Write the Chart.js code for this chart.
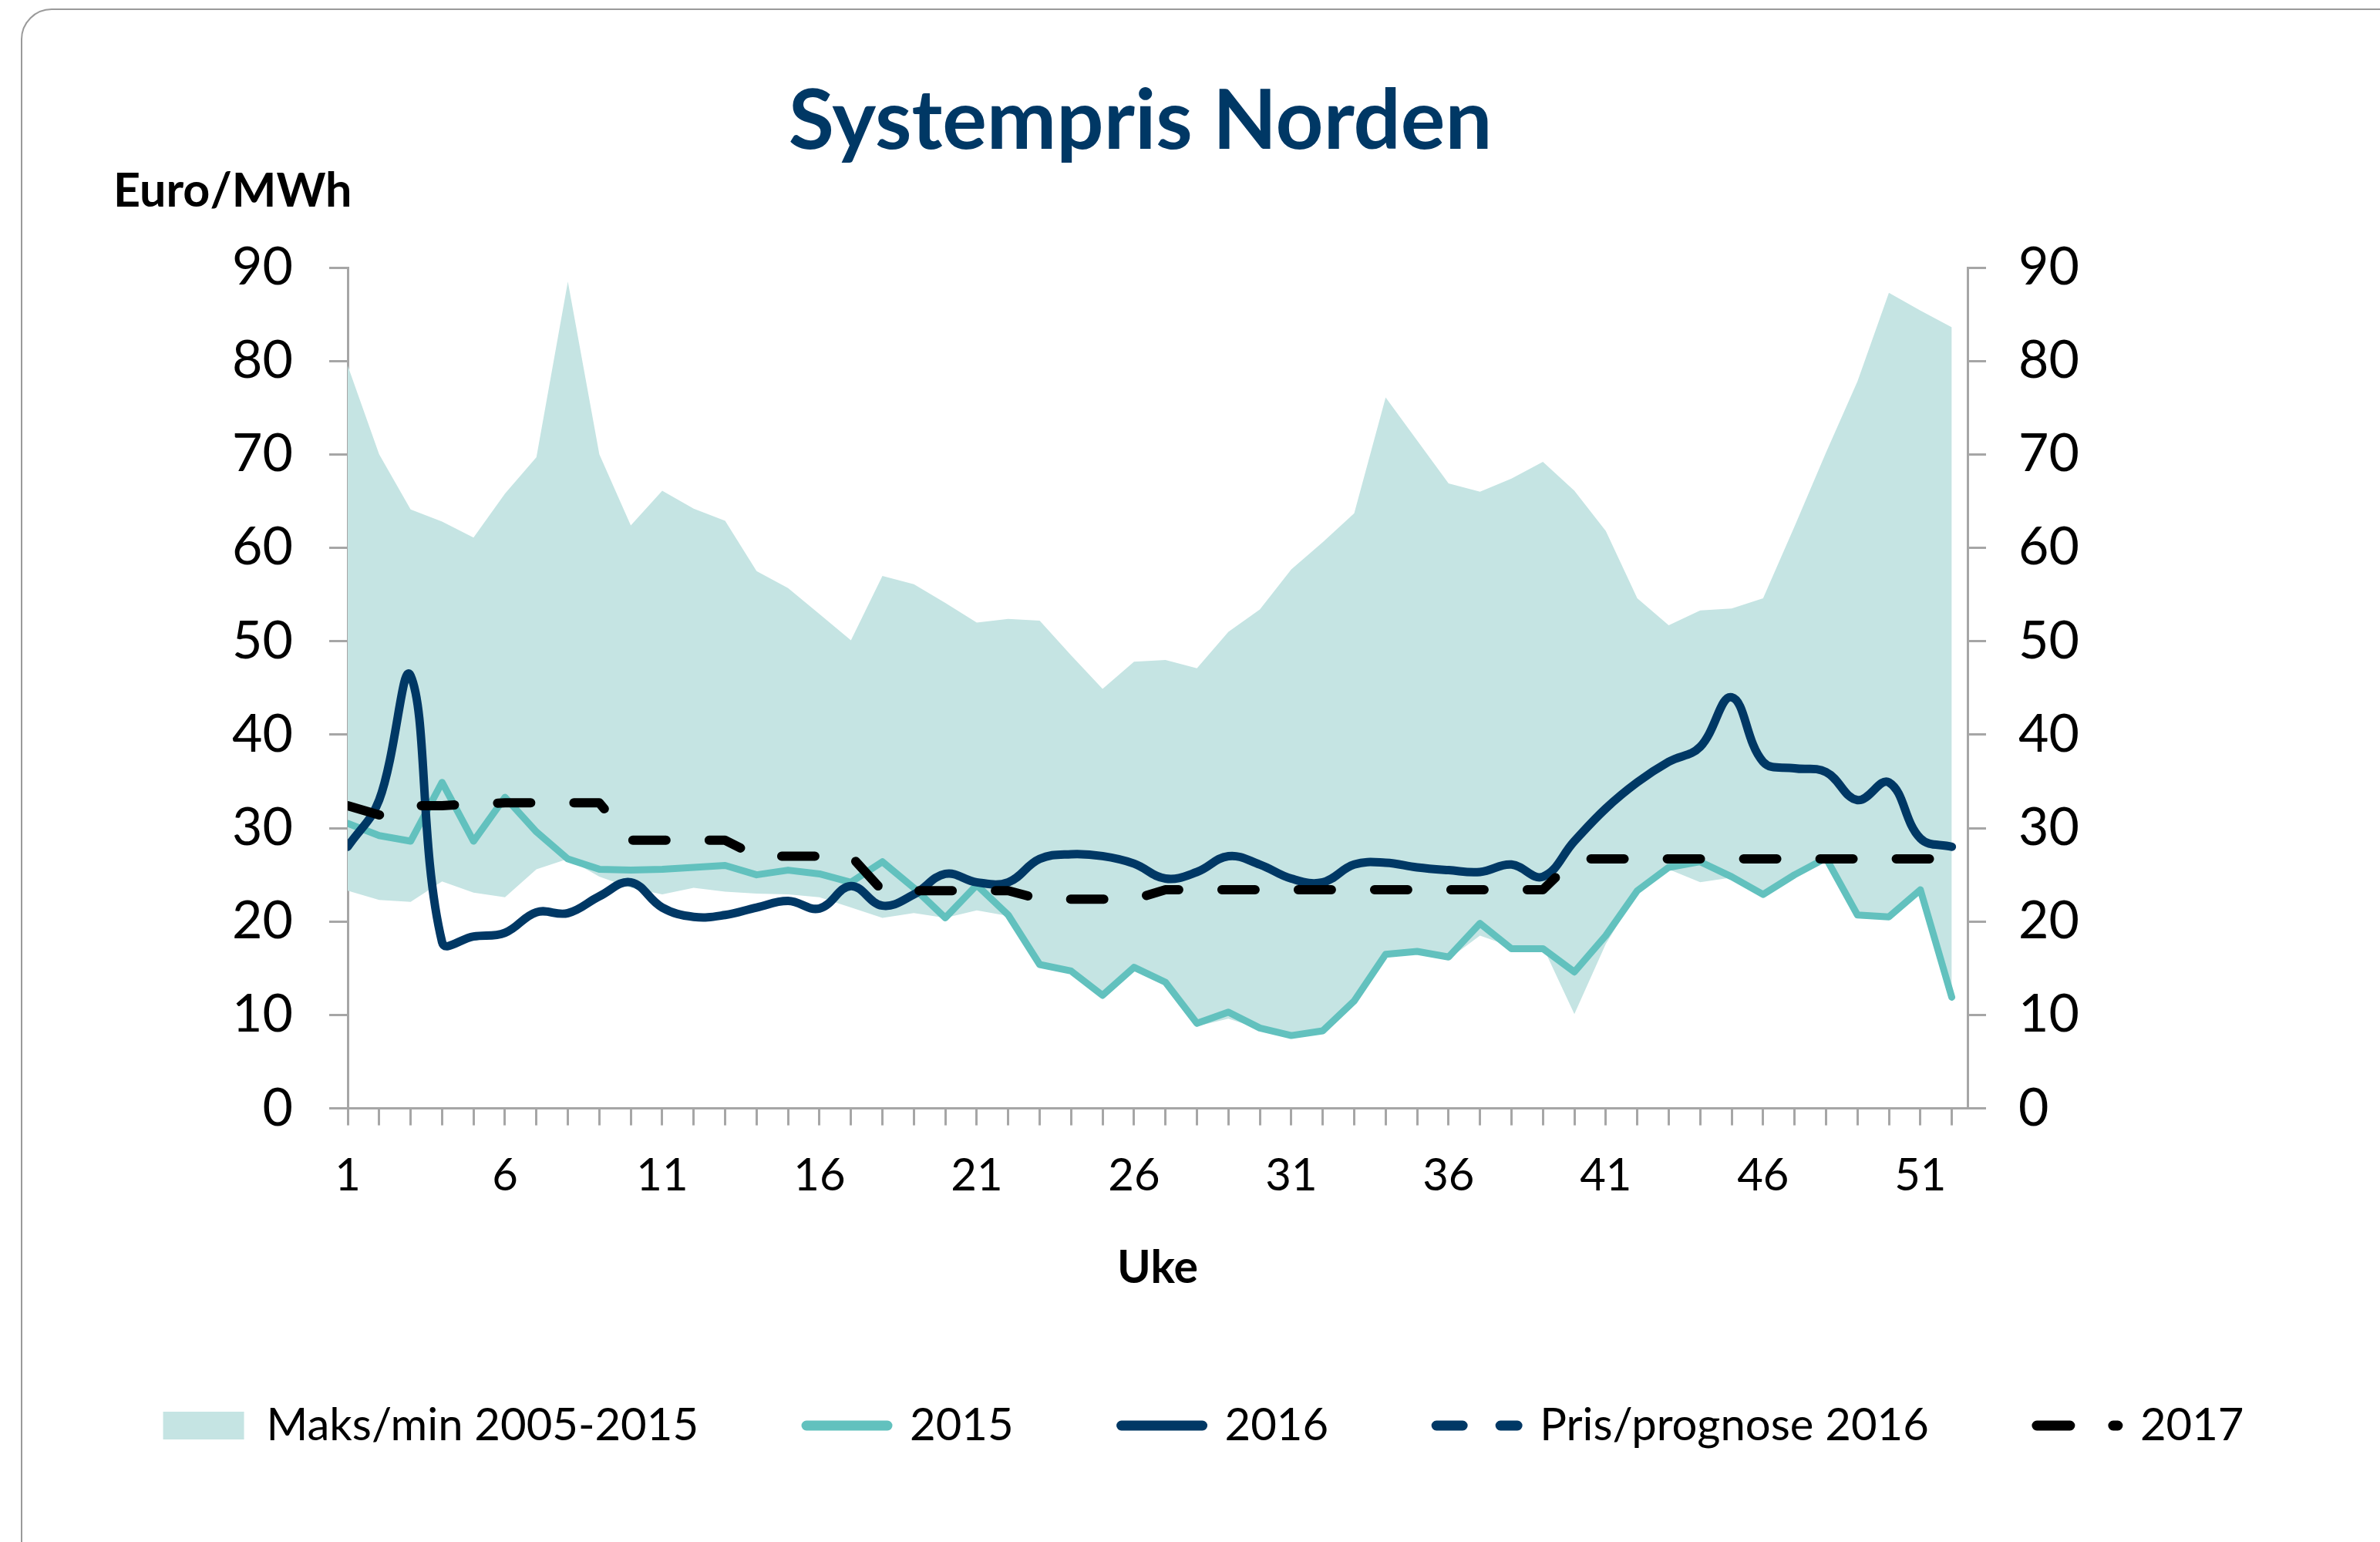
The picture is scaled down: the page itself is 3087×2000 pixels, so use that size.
<!DOCTYPE html>
<html lang="no">
<head>
<meta charset="utf-8">
<title>Systempris Norden</title>
<script src="https://cdn.jsdelivr.net/npm/chart.js@4.4.1/dist/chart.umd.min.js"></script>
<style>
  html, body { margin: 0; padding: 0; background: #fff; overflow: hidden; }
  .card { position: absolute; left: 27px; top: 11px; width: 3100px; height: 2060px; border: 2px solid #9a9a9a; border-radius: 40px; }
  #chart { position: absolute; left: 0; top: 0; }
</style>
</head>
<body>
<div class="card"></div>
<canvas id="chart" width="3087" height="2000"></canvas>
<script>
// Systempris Norden: weekly system price vs. the 2005-2015 max/min band
const TITLE = 'Systempris Norden';
const UNIT_LABEL = 'Euro/MWh';
const X_TITLE = 'Uke';

const weeks = [1, 2, 3, 4, 5, 6, 7, 8, 9, 10, 11, 12, 13, 14, 15, 16, 17, 18, 19, 20, 21, 22, 23, 24, 25, 26,
  27, 28, 29, 30, 31, 32, 33, 34, 35, 36, 37, 38, 39, 40, 41, 42, 43, 44, 45, 46, 47, 48, 49, 50, 51, 52];
const xTickLabels = [1, 6, 11, 16, 21, 26, 31, 36, 41, 46, 51];
const yTicks = [0, 10, 20, 30, 40, 50, 60, 70, 80, 90];

const bandMax = [79.5, 70.0, 64.1, 62.8, 61.1, 65.8, 69.7, 88.5, 70.0, 62.4, 66.1, 64.2, 62.9, 57.5, 55.7, 52.9, 50.1, 57.0, 56.1, 54.1, 52.0, 52.4, 52.2, 48.5, 44.9, 47.8,
  48.0, 47.1, 51.0, 53.4, 57.7, 60.6, 63.7, 76.1, 71.5, 66.9, 66.0, 67.4, 69.2, 66.1, 61.8, 54.6, 51.7, 53.3, 53.5, 54.6, 62.3, 70.2, 77.8, 87.3, 85.4, 83.6];
const bandMin = [23.3, 22.3, 22.1, 24.3, 23.1, 22.6, 25.6, 26.7, 24.8, 23.6, 22.9, 23.6, 23.2, 23.0, 22.9, 22.6, 21.5, 20.4, 20.9, 20.4, 21.2, 20.6, 15.2, 14.5, 11.9, 14.9,
  13.3, 8.8, 9.6, 8.5, 7.7, 8.1, 11.3, 16.3, 16.6, 16.0, 18.5, 17.3, 17.3, 10.1, 17.6, 23.1, 25.6, 24.2, 24.7, 22.7, 24.8, 26.6, 20.5, 20.3, 23.2, 11.7];
const price2015 = [30.5, 29.2, 28.6, 34.9, 28.6, 33.3, 29.6, 26.7, 25.6, 25.5, 25.6, 25.8, 26.0, 25.0, 25.5, 25.1, 24.2, 26.4, 23.6, 20.4, 23.9, 20.7, 15.4, 14.7, 12.1, 15.1,
  13.5, 9.1, 10.3, 8.6, 7.8, 8.3, 11.5, 16.5, 16.8, 16.2, 19.8, 17.1, 17.1, 14.6, 18.5, 23.3, 25.8, 26.4, 24.8, 22.9, 25.0, 26.8, 20.7, 20.5, 23.4, 11.9];
const price2016 = [28.0, 33.0, 46.3, 17.8, 18.4, 18.8, 21.0, 20.9, 22.7, 24.2, 21.5, 20.5, 20.7, 21.5, 22.2, 21.4, 23.8, 21.7, 22.9, 25.1, 24.2, 24.2, 26.7, 27.2, 27.0, 26.2,
  24.6, 25.3, 27.0, 26.1, 24.6, 24.2, 26.1, 26.3, 25.8, 25.5, 25.3, 26.1, 24.8, 28.6, 32.1, 34.9, 37.1, 38.7, 44.0, 37.1, 36.4, 36.0, 33.0, 34.9, 28.9, 28.0];
const forecast2016 = [];
const price2017 = [32.4, 31.4, 32.4, 32.4, 32.6, 32.7, 32.7, 32.7, 32.7, 28.7, 28.7, 28.7, 28.7, 27.0, 27.0, 27.0, 27.0, 23.3, 23.3, 23.3, 23.3, 23.3, 22.4, 22.4, 22.4, 22.4,
  23.4, 23.4, 23.4, 23.4, 23.4, 23.4, 23.4, 23.4, 23.4, 23.4, 23.4, 23.4, 23.4, 26.7, 26.7, 26.7, 26.7, 26.7, 26.7, 26.7, 26.7, 26.7, 26.7, 26.7, 26.7, 26.7];

const NAVY = '#003865';
const TEAL = '#62c1be';
const BAND = '#c5e4e3';
const AXIS_GREY = '#a6a6a6';
const FONT = 'Lato';

const toPoints = (values) => values.map((y, i) => ({ x: weeks[i], y }));

// title + unit label sit above the plot, outside Chart.js' own title box
const headerPlugin = {
  id: 'header',
  afterDraw(chart) {
    const { ctx } = chart;
    ctx.save();
    ctx.textBaseline = 'alphabetic';
    ctx.fillStyle = NAVY;
    ctx.font = `bold 108px ${FONT}`;
    ctx.textAlign = 'center';
    ctx.fillText(TITLE, 1479, 193);
    ctx.fillStyle = '#000';
    ctx.font = `bold 61px ${FONT}`;
    ctx.textAlign = 'left';
    ctx.fillText(UNIT_LABEL, 147, 268);
    ctx.restore();
  }
};

const legendLabels = (chart) => chart.data.datasets
  .map((ds, i) => ({ ds, i }))
  .filter(({ ds }) => ds.label)
  .map(({ ds, i }) => ({
    text: ds.label,
    datasetIndex: i,
    fillStyle: ds.fill ? ds.backgroundColor : ds.borderColor,
    strokeStyle: ds.borderColor,
    lineWidth: ds.fill ? 0 : 13,
    lineDash: ds.borderDash || [],
    lineDashOffset: 0,
    lineCap: 'round',
    pointStyle: ds.fill ? 'rect' : 'line',
    rotation: 0,
    fontColor: '#000',
    hidden: false
  }));

const yAxis = (position, width) => ({
  position,
  min: yTicks[0],
  max: yTicks[yTicks.length - 1],
  z: 1,
  border: { display: true, color: AXIS_GREY, width: 3 },
  grid: { drawOnChartArea: false, color: AXIS_GREY, lineWidth: 3, tickLength: 24 },
  ticks: {
    stepSize: yTicks[1] - yTicks[0],
    padding: position === 'left' ? 47 : 42,
    color: '#000',
    font: { family: FONT, size: 68 }
  },
  afterFit: (scale) => { scale.width = width; }
});

new Chart(document.getElementById('chart'), {
  type: 'line',
  data: {
    datasets: [
      { data: toPoints(bandMin), borderWidth: 0, backgroundColor: BAND, fill: false, order: 10 },
      { label: 'Maks/min 2005-2015', data: toPoints(bandMax), borderWidth: 0, borderColor: BAND, backgroundColor: BAND, fill: '-1', order: 10 },
      { label: '2015', data: toPoints(price2015), borderColor: TEAL, borderWidth: 9, fill: false, order: 4 },
      { label: '2016', data: toPoints(price2016), borderColor: NAVY, borderWidth: 11, tension: 0.4, fill: false, order: 3 },
      { label: 'Pris/prognose 2016', data: toPoints(forecast2016), borderColor: NAVY, borderWidth: 11, borderDash: [34, 49], fill: false, order: 2 },
      { label: '2017', data: toPoints(price2017), borderColor: '#000', borderWidth: 12, borderDash: [43, 56], fill: false, order: 1 }
    ]
  },
  options: {
    responsive: false,
    animation: false,
    events: [],
    layout: { padding: { top: 347, left: 35, right: 0, bottom: 112 } },
    elements: {
      point: { radius: 0, hoverRadius: 0 },
      line: { borderCapStyle: 'round', borderJoinStyle: 'round' }
    },
    plugins: {
      title: { display: false },
      tooltip: { enabled: false },
      legend: {
        position: 'bottom',
        labels: {
          usePointStyle: true,
          pointStyleWidth: 105,
          boxHeight: 36,
          padding: 140,
          color: '#000',
          font: { family: FONT, size: 58 },
          generateLabels: legendLabels
        }
      }
    },
    scales: {
      x: {
        type: 'linear',
        min: weeks[0],
        max: weeks[weeks.length - 1] + 0.5,
        z: 1,
        border: { display: true, color: AXIS_GREY, width: 3 },
        grid: { drawOnChartArea: false, color: AXIS_GREY, lineWidth: 3, tickLength: 22 },
        ticks: {
          stepSize: 1,
          autoSkip: false,
          includeBounds: false,
          maxRotation: 0,
          padding: 31,
          color: '#000',
          font: { family: FONT, size: 58 },
          callback: (v) => (xTickLabels.includes(v) ? String(v) : '')
        },
        title: {
          display: true,
          text: X_TITLE,
          color: '#000',
          font: { family: FONT, size: 59, weight: 'bold' },
          padding: { top: 18, bottom: 0 }
        }
      },
      y: yAxis('left', 416),
      yRight: yAxis('right', 535)
    }
  },
  plugins: [headerPlugin]
});
</script>
</body>
</html>
